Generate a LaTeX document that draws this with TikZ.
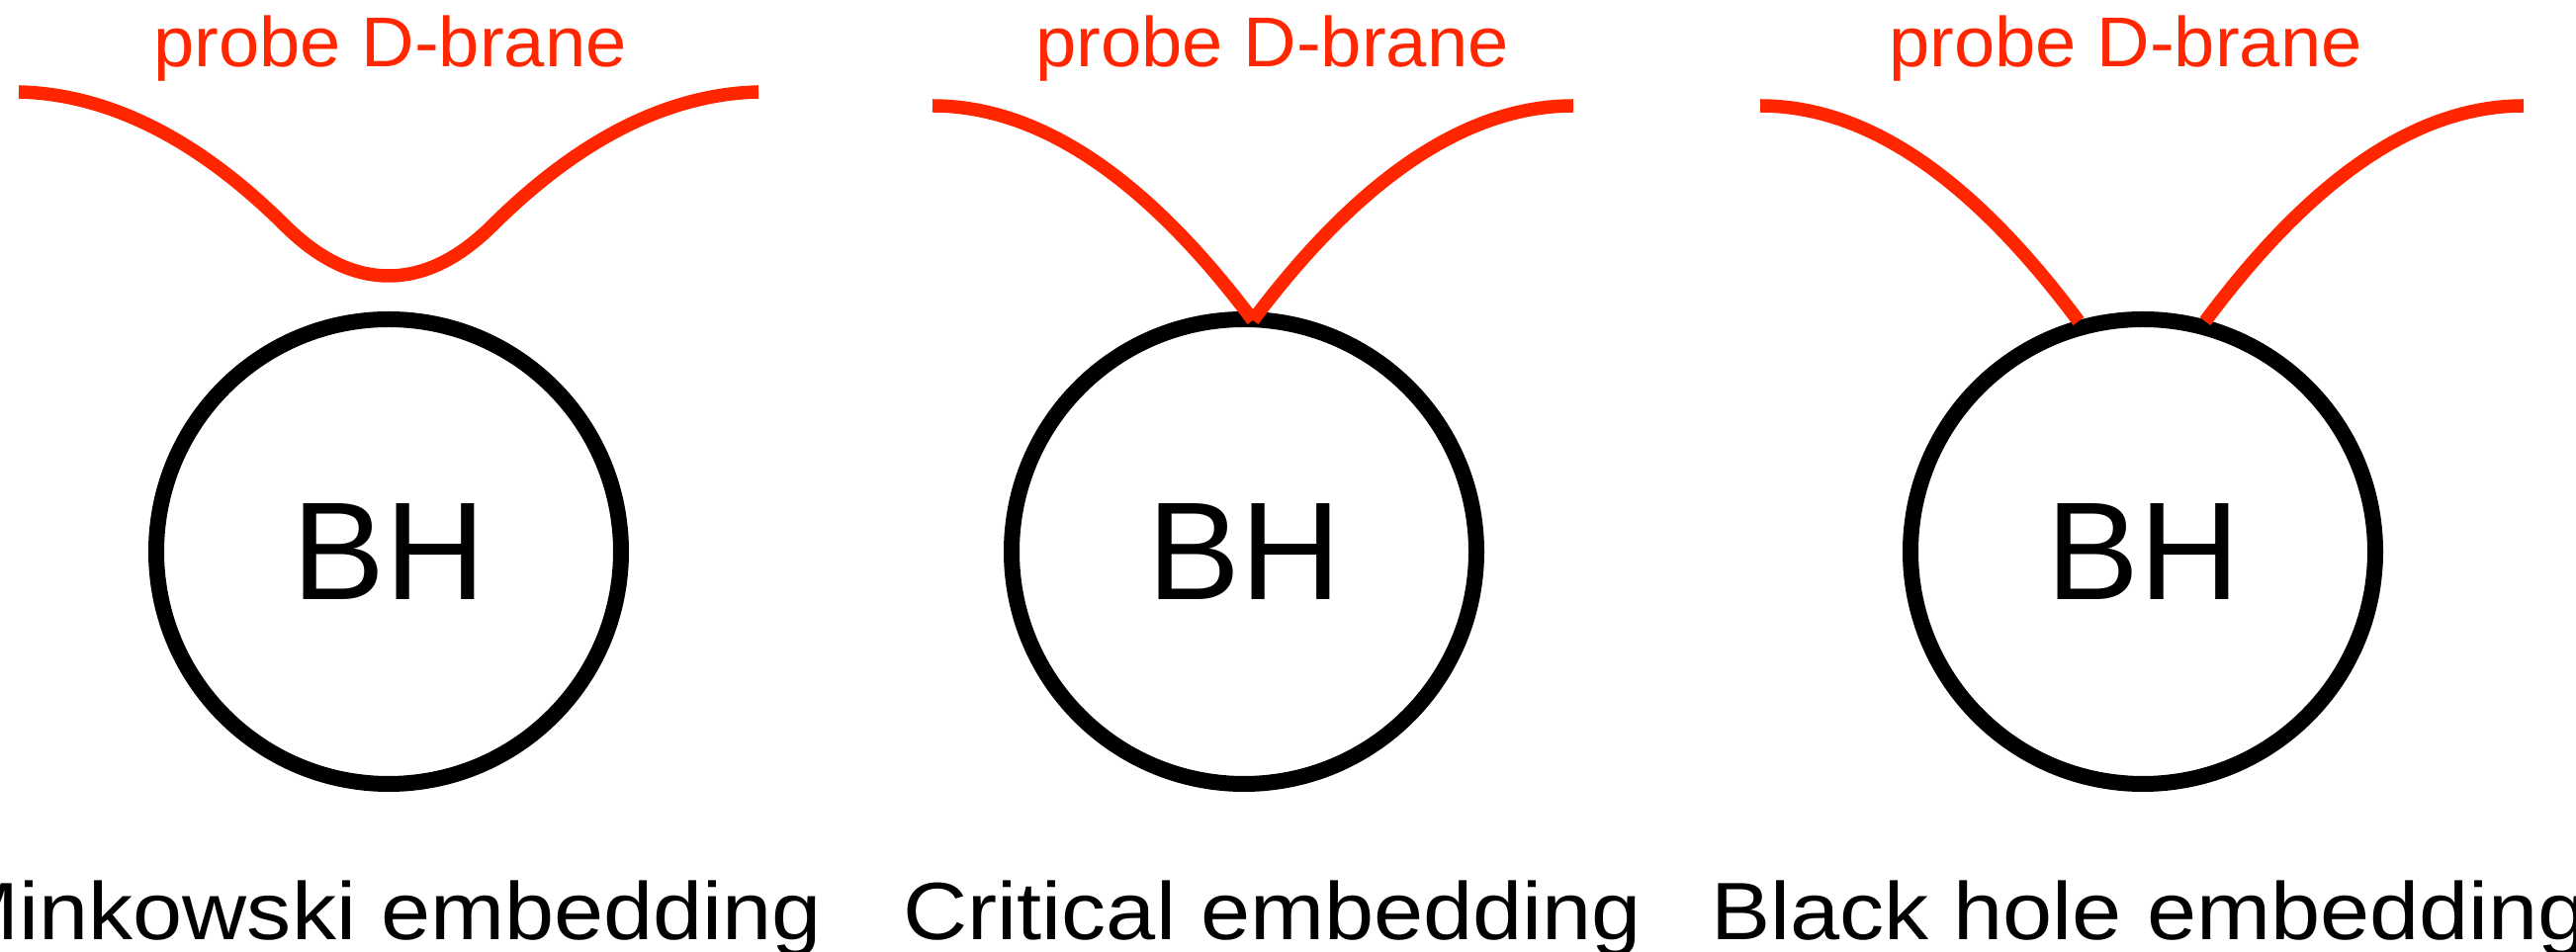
\documentclass[tikz,border=0pt]{standalone}
\usepackage{fontspec}
\setmainfont{Liberation Sans}
\newfontfamily\capfont[FakeStretch=1.095]{Liberation Sans}
\newfontfamily\branefont[FakeStretch=1.04]{Liberation Sans}
\definecolor{branered}{RGB}{255,38,0}
\tikzset{
  bh/.style={circle, draw=black, line width=4.8pt, minimum size=141pt,
    inner sep=0pt, font=\fontsize{42.3}{48}\selectfont},
  brane/.style={draw=branered, line width=4.05pt},
  branelabel/.style={text=branered, inner sep=0pt, anchor=base,
    font=\branefont\fontsize{21.4}{24}\selectfont},
  caption/.style={inner sep=0pt, font=\capfont\fontsize{24.7}{28}\selectfont},
}
\begin{document}
\begin{tikzpicture}[x=0.3pt, y=-0.3pt]
\useasboundingbox (0,0) rectangle (2605,963);

% black holes
\node[bh] (bhM) at (393,558) {BH};
\node[bh] (bhC) at (1258,558) {BH};
\node[bh] (bhB) at (2167,558) {BH};

% end points of the branes
\coordinate (mL) at (19,93);
\coordinate (mR) at (767,93);
\coordinate (mBot) at (393,279);
\coordinate (cL) at (943,107);
\coordinate (cR) at (1591,107);
\coordinate (cTip) at (1267,324);
\coordinate (bL) at (1780,107);
\coordinate (bR) at (2552,107);
\coordinate (bEndL) at (2102,325);
\coordinate (bEndR) at (2230,325);

% Minkowski embedding: brane bends down but stays outside the horizon
\draw[brane] (mL) .. controls (105,95) and (195,136) .. (287,227)
  .. controls (321,261) and (356,279) .. (mBot)
  .. controls (430,279) and (465,261) .. (499,227)
  .. controls (591,136) and (681,95) .. (mR);

% critical embedding: brane just touches the horizon
\draw[brane] (cL) .. controls (1051,107) and (1159,180) .. (cTip);
\draw[brane] (cR) .. controls (1483,107) and (1375,180) .. (cTip);

% black hole embedding: brane falls into the horizon
\draw[brane] (bL) .. controls (1888,107) and (1994,180) .. (bEndL);
\draw[brane] (bR) .. controls (2444,107) and (2338,180) .. (bEndR);

% labels
\node[branelabel] (pM) at (394.6,67.7) {probe D-brane};
\node[branelabel] (pC) at (1286.5,67.7) {probe D-brane};
\node[branelabel] (pB) at (2149.5,67.7) {probe D-brane};

\node[caption, anchor=base east] (tM) at (832,950.7) {Minkowski embedding};
\node[caption, anchor=base] (tC) at (1287,950.7) {Critical embedding};
\node[caption, anchor=base west] (tB) at (1729.5,950.7) {Black hole embedding};
\end{tikzpicture}
\end{document}
